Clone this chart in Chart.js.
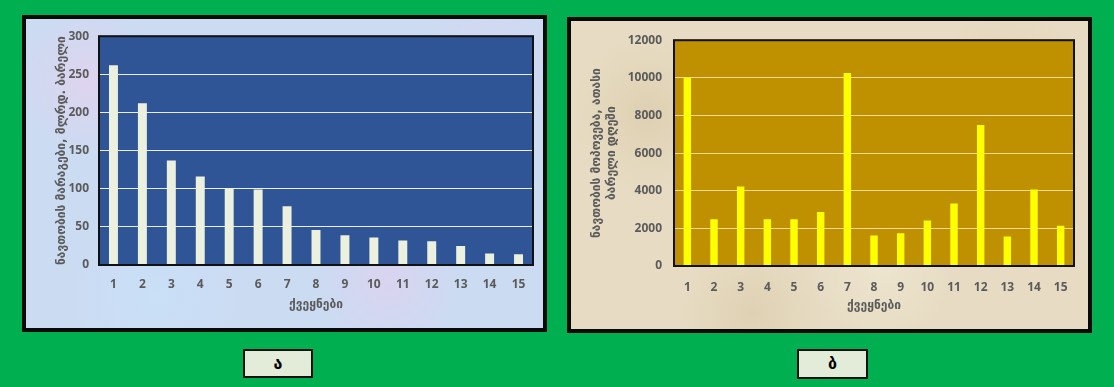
<!DOCTYPE html>
<html>
<head>
<meta charset="utf-8">
<script src="https://cdn.jsdelivr.net/npm/chart.js@4/dist/chart.umd.min.js"></script>
<style>
  html, body { margin: 0; padding: 0; }
  body {
    width: 1114px;
    height: 387px;
    background: #00b050;
    position: relative;
    overflow: hidden;
  }
  .panel {
    position: absolute;
    border: 4px solid #0a0a0a;
    box-sizing: border-box;
  }
  #panelA {
    left: 22px; top: 15px; width: 525px; height: 317px;
    background-color: #cbdbf2;
    background-image:
      radial-gradient(circle at 12% 20%, rgba(236, 206, 236, 0.6) 0, rgba(236, 206, 236, 0) 14%),
      radial-gradient(circle at 70% 85%, rgba(232, 204, 236, 0.5) 0, rgba(232, 204, 236, 0) 16%),
      radial-gradient(circle at 40% 60%, rgba(214, 236, 250, 0.6) 0, rgba(214, 236, 250, 0) 18%),
      radial-gradient(circle at 90% 15%, rgba(226, 210, 240, 0.5) 0, rgba(226, 210, 240, 0) 14%),
      radial-gradient(circle at 25% 90%, rgba(200, 226, 248, 0.7) 0, rgba(200, 226, 248, 0) 18%);
  }
  #panelB {
    left: 567px; top: 17px; width: 525px; height: 316px;
    background-color: #e7dcc3;
    background-image:
      radial-gradient(circle at 15% 30%, rgba(214, 196, 160, 0.5) 0, rgba(214, 196, 160, 0) 16%),
      radial-gradient(circle at 60% 80%, rgba(240, 232, 212, 0.7) 0, rgba(240, 232, 212, 0) 18%),
      radial-gradient(circle at 85% 20%, rgba(218, 202, 168, 0.5) 0, rgba(218, 202, 168, 0) 15%),
      radial-gradient(circle at 35% 95%, rgba(210, 192, 156, 0.4) 0, rgba(210, 192, 156, 0) 16%);
  }
  .panel canvas { display: block; }
  .tag {
    position: absolute;
    box-sizing: border-box;
    border: 2px solid #111;
    background: #e3ebd9;
    font-family: "DejaVu Sans", sans-serif;
    font-weight: bold;
    font-size: 16px;
    color: #000;
    text-align: center;
  }
  #tagA { left: 243px; top: 349px; width: 70px; height: 29px; line-height: 25px; }
  #tagB { left: 797px; top: 349px; width: 71px; height: 30px; line-height: 26px; }
</style>
</head>
<body>

<div class="panel" id="panelA"><canvas id="reservesChart" width="517" height="309"></canvas></div>
<div class="panel" id="panelB"><canvas id="productionChart" width="517" height="308"></canvas></div>
<div class="tag" id="tagA">ა</div>
<div class="tag" id="tagB">ბ</div>

<script>
const countries = ["1", "2", "3", "4", "5", "6", "7", "8", "9", "10", "11", "12", "13", "14", "15"];
const reserves = [262, 212, 137, 116, 101, 99, 77, 46, 39, 36, 32, 31, 25, 15, 14];
const production = [10000, 2490, 4230, 2490, 2490, 2870, 10260, 1620, 1740, 2420, 3320, 7500, 1570, 4070, 2140];

const reservesTicks = [0, 50, 100, 150, 200, 250, 300];
const productionTicks = [0, 2000, 4000, 6000, 8000, 10000, 12000];

const xTitle = "ქვეყნები";
const reservesTitle = "ნავთობის მარაგები, მლრდ. ბარელი";
const productionTitle = ["ნავთობის მოპოვება, ათასი", "ბარელი დღეში"];

document.addEventListener("DOMContentLoaded", function () {

  const tickFont = { family: "'Open Sans', 'Liberation Sans', sans-serif", size: 12, weight: "bold" };
  const titleFont = { family: "'DejaVu Sans', sans-serif", size: 12, weight: "bold", lineHeight: 1.25 };
  const textColor = "#5b5b5b";

  // fills the plot area and outlines it in black
  const plotFrame = {
    id: "plotFrame",
    beforeDraw(chart, args, opts) {
      const a = chart.chartArea;
      const ctx = chart.ctx;
      ctx.save();
      ctx.fillStyle = opts.fill;
      ctx.fillRect(a.left, a.top, a.right - a.left, a.bottom - a.top);
      ctx.restore();
    },
    afterDatasetsDraw(chart) {
      const a = chart.chartArea;
      const ctx = chart.ctx;
      ctx.save();
      ctx.strokeStyle = "#111";
      ctx.lineWidth = 2;
      ctx.strokeRect(a.left, a.top, a.right - a.left, a.bottom - a.top);
      ctx.restore();
    }
  };

  function makeChart(canvas, cfg) {
    return new Chart(canvas, {
      type: "bar",
      data: {
        labels: countries,
        datasets: [{
          data: cfg.values,
          backgroundColor: cfg.barColor,
          borderWidth: 0,
          barPercentage: cfg.barWidth,
          categoryPercentage: 1
        }]
      },
      options: {
        responsive: false,
        animation: false,
        layout: { padding: { left: 0, top: cfg.top, right: cfg.right, bottom: 0 } },
        plugins: {
          legend: { display: false },
          tooltip: { enabled: false },
          plotFrame: { fill: cfg.plotColor }
        },
        scales: {
          x: {
            grid: { display: false },
            border: { display: false },
            ticks: { color: textColor, font: tickFont, padding: cfg.xPad },
            title: {
              display: true, text: xTitle, color: textColor, font: titleFont,
              padding: { top: 0, bottom: cfg.xTitlePad }
            },
            afterFit(scale) { scale.height = cfg.xHeight; }
          },
          y: {
            min: cfg.yTicks[0],
            max: cfg.yTicks[cfg.yTicks.length - 1],
            afterBuildTicks(scale) { scale.ticks = cfg.yTicks.map(v => ({ value: v })); },
            grid: { color: cfg.gridColor, lineWidth: 1, drawTicks: false },
            border: { display: false },
            ticks: {
              color: textColor, font: tickFont, padding: cfg.yPad,
              callback: v => String(v)
            },
            title: {
              display: true, text: cfg.yTitle, color: textColor, font: titleFont,
              padding: { top: cfg.yTitlePad, bottom: 0 }
            },
            afterFit(scale) { scale.width = cfg.yWidth; }
          }
        }
      },
      plugins: [plotFrame]
    });
  }

  makeChart(document.getElementById("reservesChart"), {
    values: reserves,
    yTicks: reservesTicks,
    yTitle: reservesTitle,
    barColor: "#ebf1de",
    plotColor: "#2f5597",
    gridColor: "rgba(255,255,255,0.9)",
    barWidth: 0.31,
    top: 13, right: 10,
    yWidth: 73, xHeight: 63,
    yPad: 10, xPad: 4,
    xTitlePad: 16, yTitlePad: 28
  });

  makeChart(document.getElementById("productionChart"), {
    values: production,
    yTicks: productionTicks,
    yTitle: productionTitle,
    barColor: "#ffff00",
    plotColor: "#bf9000",
    gridColor: "rgba(250,232,170,0.85)",
    barWidth: 0.28,
    top: 15, right: 14,
    yWidth: 103, xHeight: 63,
    yPad: 12, xPad: 6,
    xTitlePad: 16, yTitlePad: 18
  });

});
</script>
</body>
</html>
